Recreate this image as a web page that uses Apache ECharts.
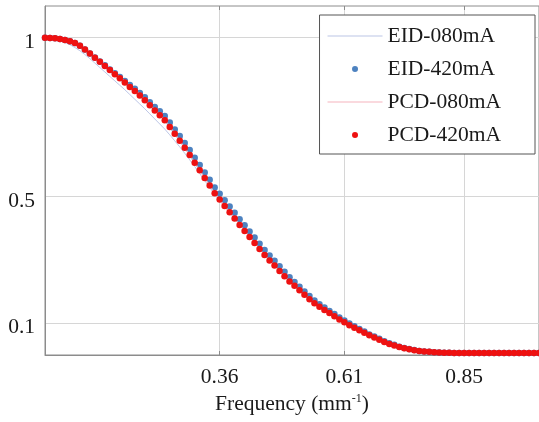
<!DOCTYPE html>
<html>
<head>
<meta charset="utf-8">
<script src="https://cdn.jsdelivr.net/npm/echarts@6/dist/echarts.min.js"></script>
<style>
  html, body { margin: 0; padding: 0; background: #fff; }
  #chart { width: 539px; height: 422px; }
</style>
</head>
<body>
<div id="chart"></div>
<script>
// spatial frequency samples (mm^-1)
const freq = [
  0.01,0.02,0.03,0.04,0.05,0.06,0.07,0.08,0.09,0.10,
  0.11,0.12,0.13,0.14,0.15,0.16,0.17,0.18,0.19,0.20,
  0.21,0.22,0.23,0.24,0.25,0.26,0.27,0.28,0.29,0.30,
  0.31,0.32,0.33,0.34,0.35,0.36,0.37,0.38,0.39,0.40,
  0.41,0.42,0.43,0.44,0.45,0.46,0.47,0.48,0.49,0.50,
  0.51,0.52,0.53,0.54,0.55,0.56,0.57,0.58,0.59,0.60,
  0.61,0.62,0.63,0.64,0.65,0.66,0.67,0.68,0.69,0.70,
  0.71,0.72,0.73,0.74,0.75,0.76,0.77,0.78,0.79,0.80,
  0.81,0.82,0.83,0.84,0.85,0.86,0.87,0.88,0.89,0.90,
  0.91,0.92,0.93,0.94,0.95,0.96,0.97,0.98,0.99,1.00
];

const eid080 = [
  1.000,0.998,0.995,0.991,0.985,0.978,0.969,0.959,0.947,0.934,
  0.920,0.906,0.892,0.878,0.864,0.850,0.836,0.821,0.806,0.791,
  0.776,0.760,0.744,0.728,0.712,0.694,0.675,0.656,0.636,0.615,
  0.594,0.572,0.550,0.528,0.506,0.486,0.467,0.448,0.429,0.410,
  0.396,0.377,0.358,0.339,0.320,0.303,0.287,0.271,0.254,0.238,
  0.224,0.210,0.197,0.183,0.171,0.160,0.150,0.140,0.130,0.120,
  0.111,0.102,0.094,0.086,0.078,0.070,0.062,0.055,0.048,0.042,
  0.036,0.031,0.026,0.022,0.019,0.016,0.014,0.012,0.010,0.009,
  0.008,0.007,0.006,0.006,0.006,0.006,0.006,0.006,0.006,0.006,
  0.006,0.006,0.006,0.006,0.006,0.006,0.006,0.006,0.006,0.006
];

const eid420 = [
  1.000,0.999,0.998,0.996,0.993,0.989,0.983,0.975,0.963,0.950,
  0.938,0.925,0.913,0.900,0.888,0.876,0.864,0.851,0.839,0.826,
  0.812,0.797,0.782,0.768,0.753,0.733,0.711,0.690,0.668,0.646,
  0.622,0.599,0.575,0.552,0.528,0.508,0.488,0.468,0.448,0.428,
  0.409,0.389,0.370,0.351,0.331,0.314,0.297,0.280,0.262,0.245,
  0.230,0.215,0.200,0.186,0.172,0.160,0.150,0.139,0.129,0.118,
  0.109,0.099,0.091,0.082,0.074,0.065,0.058,0.051,0.043,0.037,
  0.032,0.026,0.022,0.019,0.016,0.013,0.011,0.010,0.009,0.008,
  0.007,0.007,0.006,0.006,0.006,0.006,0.006,0.006,0.006,0.006,
  0.006,0.006,0.006,0.006,0.006,0.006,0.006,0.006,0.006,0.006
];

const pcd080 = [
  1.000,0.999,0.998,0.997,0.995,0.991,0.986,0.978,0.967,0.955,
  0.942,0.929,0.916,0.903,0.890,0.877,0.863,0.849,0.836,0.822,
  0.806,0.790,0.774,0.758,0.742,0.721,0.699,0.676,0.654,0.631,
  0.607,0.583,0.559,0.535,0.511,0.491,0.471,0.451,0.431,0.411,
  0.392,0.373,0.354,0.335,0.316,0.299,0.283,0.266,0.249,0.233,
  0.219,0.205,0.191,0.177,0.164,0.153,0.143,0.133,0.123,0.113,
  0.104,0.095,0.087,0.079,0.071,0.063,0.056,0.049,0.042,0.036,
  0.031,0.026,0.022,0.019,0.016,0.013,0.011,0.010,0.009,0.008,
  0.007,0.007,0.006,0.006,0.006,0.006,0.006,0.006,0.006,0.006,
  0.006,0.006,0.006,0.006,0.006,0.006,0.006,0.006,0.006,0.006
];

const pcd420 = [
  1.000,0.999,0.998,0.996,0.993,0.989,0.983,0.975,0.963,0.950,
  0.937,0.924,0.911,0.898,0.885,0.872,0.859,0.845,0.832,0.818,
  0.803,0.787,0.771,0.756,0.740,0.719,0.697,0.675,0.653,0.630,
  0.606,0.582,0.558,0.534,0.510,0.490,0.470,0.450,0.430,0.410,
  0.391,0.372,0.353,0.334,0.315,0.298,0.282,0.265,0.248,0.232,
  0.218,0.204,0.190,0.176,0.163,0.152,0.142,0.132,0.122,0.112,
  0.103,0.094,0.086,0.078,0.070,0.062,0.055,0.048,0.041,0.035,
  0.030,0.025,0.021,0.018,0.015,0.013,0.011,0.010,0.009,0.008,
  0.007,0.007,0.006,0.006,0.006,0.006,0.006,0.006,0.006,0.006,
  0.006,0.006,0.006,0.006,0.006,0.006,0.006,0.006,0.006,0.006
];

const xTicks = [0.36, 0.61, 0.85];
const yTicks = [0.1, 0.5, 1];
const seriesNames = ['EID-080mA', 'EID-420mA', 'PCD-080mA', 'PCD-420mA'];

const FONT = 'Liberation Serif';
const FS = 21.5;
const LINE_ICON = 'path://M0,0 L52,0 L52,1 L0,1 Z';
const pairs = vals => freq.map((f, i) => [f, vals[i]]);

const chart = echarts.init(document.getElementById('chart'), null, { renderer: 'canvas' });

const option = {
  animation: false,
  backgroundColor: '#fff',
  grid: {
    left: 45, top: 6, right: 0, bottom: 67,
    show: true, borderColor: '#8c8c8c', borderWidth: 1
  },
  legend: {
    orient: 'vertical',
    right: 4, top: 15,
    // thin bar for the line entries, small dot for the dotted ones
    data: [
      { name: seriesNames[0], icon: LINE_ICON },
      { name: seriesNames[1], icon: 'circle' },
      { name: seriesNames[2], icon: LINE_ICON },
      { name: seriesNames[3], icon: 'circle' }
    ],
    backgroundColor: '#fff',
    borderColor: '#555', borderWidth: 1,
    padding: [10, 34, 8, 8],
    itemWidth: 55, itemHeight: 6, itemGap: 11,
    textStyle: { fontFamily: FONT, fontSize: FS, color: '#1a1a1a' }
  },
  xAxis: [{
    type: 'value',
    min: 0.01, max: 1.0,
    name: 'Frequency (mm{sup|-1})',
    nameLocation: 'middle',
    nameGap: 37,
    nameTextStyle: {
      fontFamily: FONT, fontSize: FS, color: '#1a1a1a',
      rich: { sup: { fontFamily: FONT, fontSize: 12, color: '#1a1a1a', verticalAlign: 'top', padding: [0, 0, 6, 0] } }
    },
    axisLine: { show: true, lineStyle: { color: '#8c8c8c', width: 1 } },
    axisTick: { show: true, inside: true, length: 4, customValues: xTicks, lineStyle: { color: '#8c8c8c' } },
    axisLabel: { customValues: xTicks, margin: 11, fontFamily: FONT, fontSize: FS, color: '#1a1a1a',
      formatter: v => v.toFixed(2) },
    splitLine: { show: true, lineStyle: { color: '#d6d6d6', width: 1 } }
  }, {
    type: 'value',
    position: 'top',
    min: 0.01, max: 1.0,
    axisLine: { show: false },
    axisTick: { show: true, inside: true, length: 4, customValues: xTicks, lineStyle: { color: '#8c8c8c' } },
    axisLabel: { show: false },
    splitLine: { show: false }
  }],
  yAxis: {
    type: 'value',
    min: 0, max: 1.1,
    axisLine: { show: true, lineStyle: { color: '#8c8c8c', width: 1 } },
    axisTick: { show: false, customValues: yTicks },
    axisLabel: { customValues: yTicks, margin: 10, fontFamily: FONT, fontSize: FS, color: '#1a1a1a',
      verticalAlign: 'top', lineHeight: 9 },
    splitLine: { show: true, lineStyle: { color: '#d6d6d6', width: 1 } }
  },
  series: [
    {
      name: seriesNames[0], type: 'line', data: pairs(eid080),
      symbol: 'none', showSymbol: false,
      lineStyle: { color: '#bcc6e6', width: 1 }, itemStyle: { color: '#bcc6e6' }, z: 2
    },
    {
      name: seriesNames[1], type: 'scatter', data: pairs(eid420),
      symbol: 'circle', symbolSize: 6.5,
      itemStyle: { color: '#4d82c0', opacity: 1 }, z: 3
    },
    {
      name: seriesNames[2], type: 'line', data: pairs(pcd080),
      symbol: 'none', showSymbol: false,
      lineStyle: { color: '#f6b3bd', width: 1 }, itemStyle: { color: '#f6b3bd' }, z: 4
    },
    {
      name: seriesNames[3], type: 'scatter', data: pairs(pcd420),
      symbol: 'circle', symbolSize: 6.5,
      itemStyle: { color: '#ee1111', opacity: 1 }, z: 5
    }
  ]
};

chart.setOption(option);
window.addEventListener('resize', () => chart.resize());
</script>
</body>
</html>
